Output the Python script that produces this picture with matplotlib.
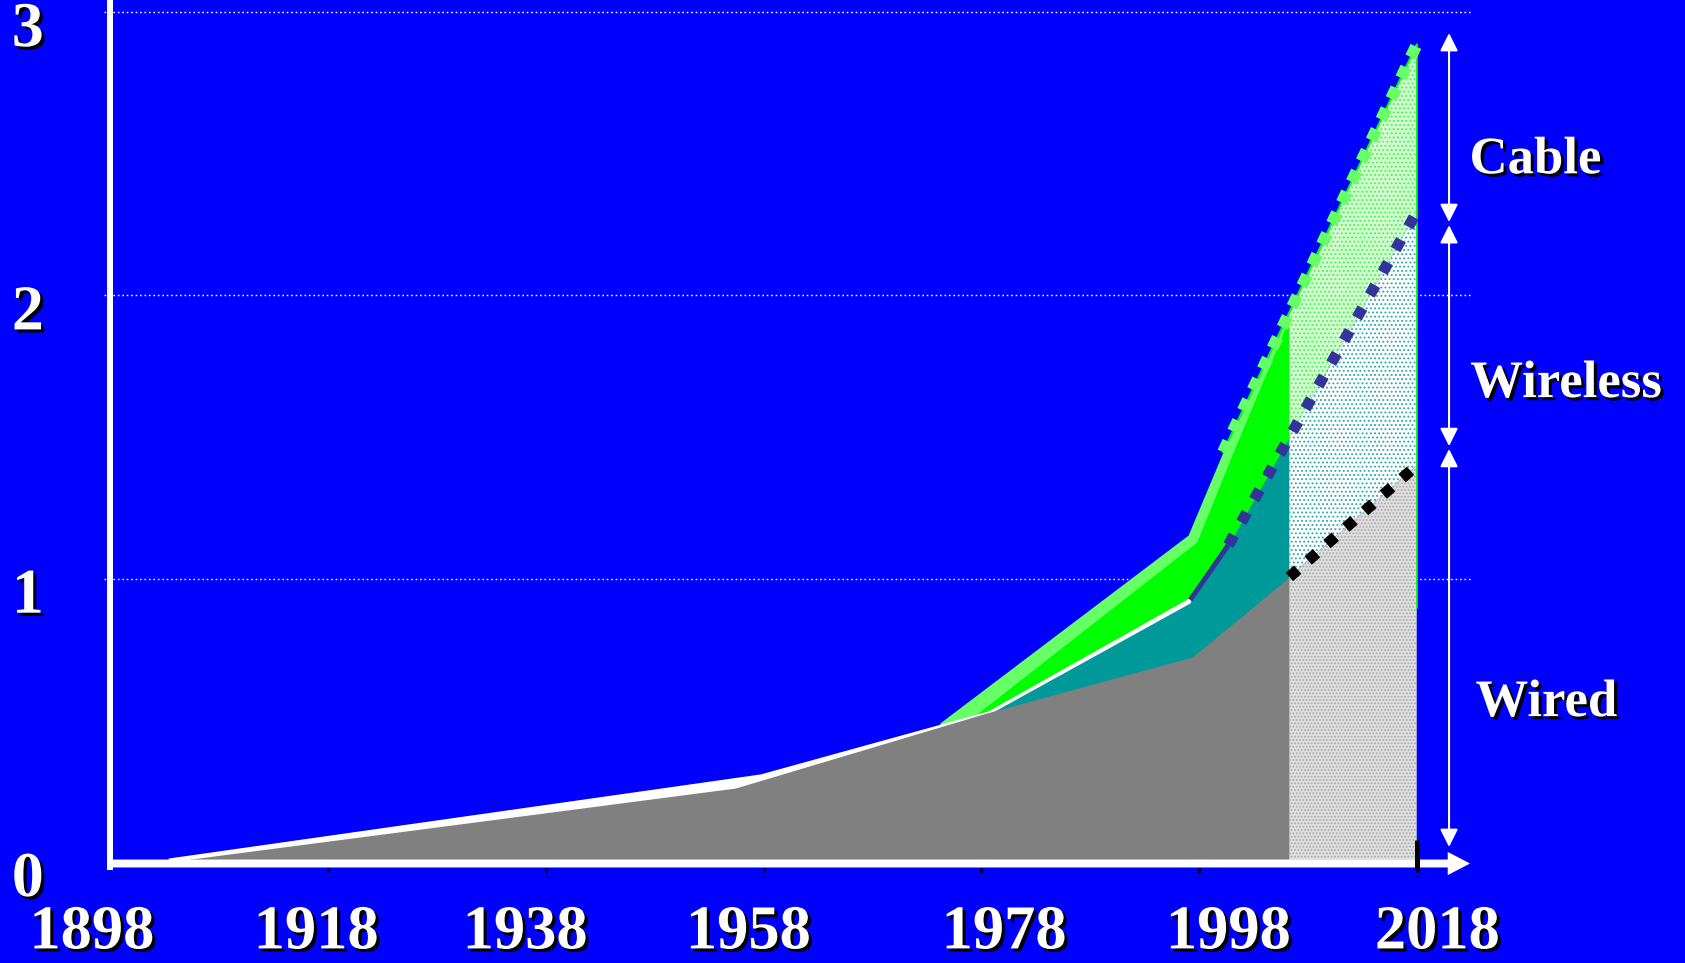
import matplotlib
matplotlib.use("Agg")
import matplotlib.pyplot as plt
import matplotlib.patheffects as pe
import numpy as np

# ---------------- data ----------------
# Wired (grey area, historic) and its white top edge
wired_years = [1903.3, 1955.4, 1978.5, 1997.4, 2006.3]
wired_vals = [0.0, 0.261, 0.526, 0.724, 1.006]
edge_years = [1903.3, 1957.7, 1978.6, 1997.2]
edge_vals = [0.014, 0.311, 0.533, 0.935]

# Wireless (teal area, cumulative top)
wireless_years = [1978.6, 1997.2, 2000.7, 2006.3]
wireless_top = [0.52, 0.915, 1.119, 1.50]
wireless_seg_years = [1997.2, 2000.7]
wireless_seg_vals = [0.925, 1.119]

# Cable (green area, cumulative top) and its light-green face
cable_face_years = [1974.2, 1997.0, 2000.2, 2006.3]
cable_face_top = [0.491, 1.154, 1.447, 1.94]
cable_years = [1977.5, 1997.8, 2001.1, 2006.3]
cable_top = [0.52, 1.13, 1.444, 1.92]

# Projections (dotted lines)
wired_proj_years = [2006.3, 2018.0]
wired_proj = [1.006, 1.40]
wireless_proj_years = [2000.7, 2018.0]
wireless_proj = [1.119, 2.294]
cable_proj_years = [2000.2, 2018.0]
cable_proj = [1.447, 2.885]
forecast_span = [2006.3, 2018.0]

# Axis text
xtick_labels = ["1898", "1918", "1938", "1958", "1978", "1998", "2018"]
xtick_label_pos = [1896.3, 1916.9, 1936.1, 1956.6, 1980.1, 2000.7, 2019.9]
xtick_marks = [1918, 1938, 1958, 1978, 1998, 2018]
ytick_vals = [0, 1, 2, 3]
grid_vals = [1, 2, 3]

# Right-hand brackets
bracket_labels = ["Cable", "Wireless", "Wired"]
bracket_ranges = [(2.926, 2.259), (2.248, 1.468), (1.458, 0.053)]
bracket_label_pos = [(2028.9, 2.431), (2031.7, 1.641), (2029.9, 0.515)]

# ---------------- colours ----------------
BG = "#0000FF"
GREY = "#808080"
TEAL = "#009999"
GREEN = "#00FF00"
LGREEN = "#66FF66"
NAVY = "#333399"

fig = plt.figure(figsize=(16.85, 9.63), dpi=100)
fig.patch.set_facecolor(BG)
ax = fig.add_axes([0, 0, 1, 1])
ax.set_facecolor(BG)
ax.set_xlim(1887.848, 2042.648)
ax.set_ylim(-0.35651, 3.0427)
ax.axis("off")

serif = "Liberation Serif"
shadow = [pe.withSimplePatchShadow(offset=(2.2, -2.2), shadow_rgbFace="black", alpha=1.0)]

# gridlines
for g in grid_vals:
    ax.plot([1897.4, 2023.0], [g, g], color="white", lw=1.0, dashes=(1.2, 2.0), zorder=1)

# historic areas
ax.fill_between(cable_face_years, 0, cable_face_top, color=LGREEN, lw=0, zorder=2)
ax.fill_between(cable_years, 0, cable_top, color=GREEN, lw=0, zorder=3)
ax.fill_between(edge_years, 0, edge_vals, color="white", lw=0, zorder=4)
ax.fill_between(wireless_years, 0, wireless_top, color=TEAL, lw=0, zorder=5)
ax.plot(wireless_seg_years, wireless_seg_vals, color=NAVY, lw=3.6,
        solid_capstyle="butt", zorder=6)
ax.fill_between(wired_years, 0, wired_vals, color=GREY, lw=0, zorder=7)

# forecast areas (patterned)
fx = np.array(forecast_span)
w_line = np.interp(fx, wired_proj_years, wired_proj)
wl_line = np.interp(fx, wireless_proj_years, wireless_proj)
c_line = np.interp(fx, cable_proj_years, cable_proj)
with plt.rc_context({"hatch.color": "#55EE55", "hatch.linewidth": 0.9}):
    ax.fill_between(fx, wl_line, c_line, facecolor="#D2FFD2", hatch="....",
                    lw=0, zorder=8)
with plt.rc_context({"hatch.color": "#33AAAA", "hatch.linewidth": 0.9}):
    ax.fill_between(fx, w_line, wl_line, facecolor="#FFFFFF", hatch="....",
                    lw=0, zorder=8)
with plt.rc_context({"hatch.color": "#A8A8A8", "hatch.linewidth": 0.9}):
    ax.fill_between(fx, 0, w_line, facecolor="#E0E0E0", hatch=".....",
                    lw=0, zorder=8)

# thin green edges
ax.plot(cable_proj_years, cable_proj, color=GREEN, lw=1.5, zorder=9)
ax.plot([forecast_span[1], forecast_span[1]], [0.897, cable_proj[-1]],
        color=GREEN, lw=1.2, zorder=9)

# projection dotted lines
ax.plot(cable_proj_years, cable_proj, color=LGREEN, lw=8.5, dashes=(1.0, 0.95),
        dash_capstyle="butt", zorder=10)
ax.plot(wireless_proj_years, wireless_proj, color=NAVY, lw=8.0, dashes=(1.0, 1.35),
        dash_capstyle="butt", zorder=10)
ax.plot(wired_proj_years, wired_proj, color="black", lw=8.0, dashes=(1.0, 1.25),
        dash_capstyle="butt", zorder=10)

# axes
ax.plot([1897.95, 1897.95], [-0.028, 3.06], color="white", lw=4.3,
        solid_capstyle="butt", zorder=11)
ax.arrow(1897.7, -0.0053, 2022.9 - 1897.7, 0, width=0.028, head_width=0.082,
         head_length=2.05, length_includes_head=True, color="white", lw=0, zorder=11)
for t in xtick_marks:
    ax.plot([t, t], [-0.02, -0.034], color="black", lw=2.2, solid_capstyle="butt",
            zorder=10)
ax.plot([2018, 2018], [-0.028, 0.078], color="black", lw=3.6, solid_capstyle="butt",
        zorder=12)

# tick labels
for lab, xp in zip(xtick_labels, xtick_label_pos):
    ax.text(xp, -0.305, lab, ha="center", va="baseline", color="white",
            fontsize=45, fontweight="bold", family=serif, path_effects=shadow, zorder=13)
for v in ytick_vals:
    ax.text(1890.4, v - 0.12, str(v), ha="center", va="baseline", color="white",
            fontsize=46, fontweight="bold", family=serif, path_effects=shadow, zorder=13)

# right brackets
for (top, bot), lab, (lx, ly) in zip(bracket_ranges, bracket_labels, bracket_label_pos):
    ax.annotate("", xy=(2020.97, top), xytext=(2020.97, bot),
                arrowprops=dict(arrowstyle="<|-|>,head_length=0.4,head_width=0.2",
                                color="white", lw=1.5, shrinkA=0, shrinkB=0,
                                mutation_scale=27),
                zorder=13)
    ax.text(lx, ly, lab, ha="center", va="baseline", color="white", fontsize=38,
            fontweight="bold", family=serif, path_effects=shadow, zorder=13)

fig.savefig("out.png", dpi=100, facecolor=BG)
